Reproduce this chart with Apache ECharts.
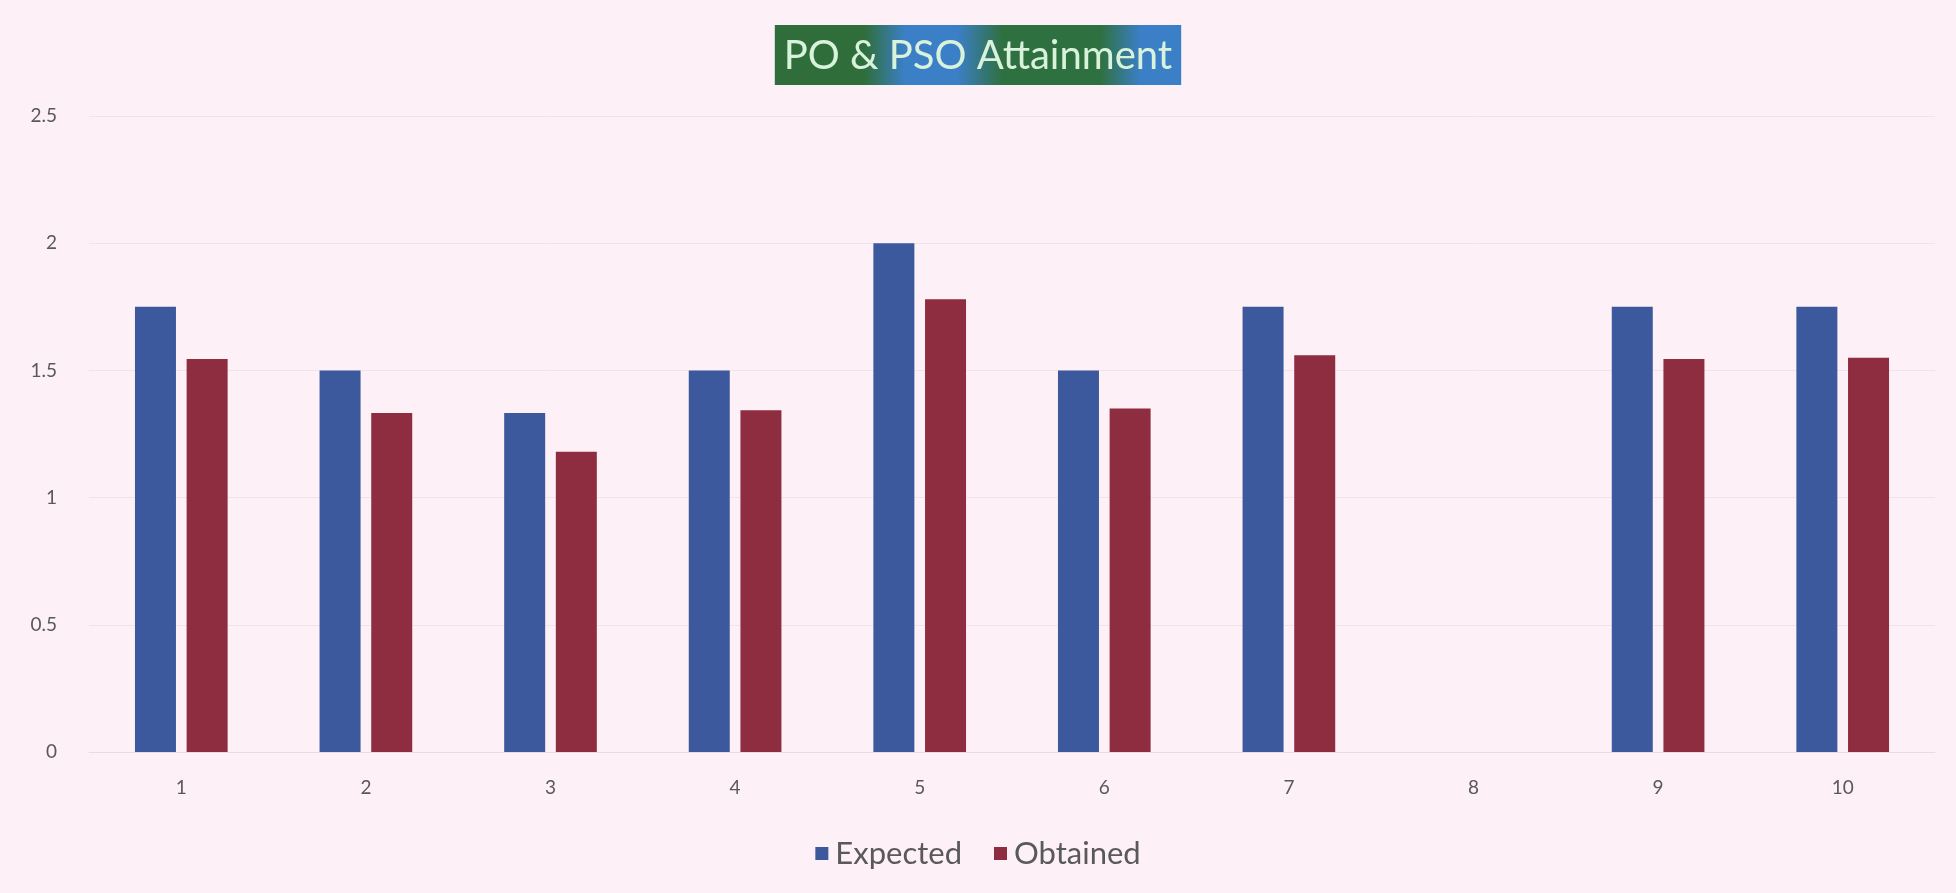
<!DOCTYPE html>
<html><head><meta charset="utf-8">
<script src="https://cdn.jsdelivr.net/npm/echarts@6/dist/echarts.min.js"></script>
<style>html,body{margin:0;padding:0;background:#fdf0f7;}#c{width:1956px;height:893px;}</style>
</head><body><div id="c"></div>
<script>
const categories = ['1','2','3','4','5','6','7','8','9','10'];
const expected = [1.75, 1.5, 1.333, 1.5, 2.0, 1.5, 1.75, null, 1.75, 1.75];
const obtained = [1.545, 1.333, 1.18, 1.343, 1.78, 1.35, 1.56, null, 1.545, 1.55];
const yTicks = {min: 0, max: 2.5, interval: 0.5};

const chart = echarts.init(document.getElementById('c'));
chart.setOption({
  backgroundColor: '#fdf0f7',
  title: {
    text: 'PO & PSO Attainment',
    left: 'center',
    top: 25,
    padding: [10, 9, 8, 9],
    backgroundColor: {
      type: 'linear', x: 0, y: 0, x2: 1, y2: 0,
      colorStops: [
        {offset: 0, color: '#2f6e3a'},
        {offset: 0.22, color: '#2f6e3a'},
        {offset: 0.32, color: '#3b7fc6'},
        {offset: 0.45, color: '#3b7fc6'},
        {offset: 0.56, color: '#2f7040'},
        {offset: 0.8, color: '#2f7040'},
        {offset: 0.9, color: '#3b7fc6'},
        {offset: 1, color: '#3b7fc6'}
      ]
    },
    textStyle: {color: '#d9f2dc', fontSize: 40, lineHeight: 42, fontWeight: 'normal', fontFamily: 'Lato'}
  },
  legend: {
    bottom: 19,
    left: 'center',
    itemWidth: 13, itemHeight: 13, itemGap: 32,
    icon: 'rect',
    textStyle: {color: '#595959', fontSize: 31, fontFamily: 'Lato', padding: [0, 0, 0, 2]},
    data: ['Expected', 'Obtained']
  },
  grid: {left: 89, right: 21, top: 116, bottom: 141},
  xAxis: {
    type: 'category',
    data: categories,
    axisLine: {show: true, lineStyle: {color: '#e8dce4'}},
    axisTick: {show: false},
    axisLabel: {color: '#595959', fontSize: 19, margin: 26, fontFamily: 'Lato'}
  },
  yAxis: {
    type: 'value',
    min: yTicks.min, max: yTicks.max, interval: yTicks.interval,
    axisLine: {show: false},
    axisTick: {show: false},
    splitLine: {lineStyle: {color: '#f1e3ec'}},
    axisLabel: {color: '#595959', fontSize: 19, margin: 32, fontFamily: 'Lato'}
  },
  series: [
    {name: 'Expected', type: 'bar', data: expected, barWidth: 41, barGap: '26%',
     itemStyle: {color: '#3b599c'}},
    {name: 'Obtained', type: 'bar', data: obtained, barWidth: 41,
     itemStyle: {color: '#8f2d40'}}
  ]
});
</script></body></html>
